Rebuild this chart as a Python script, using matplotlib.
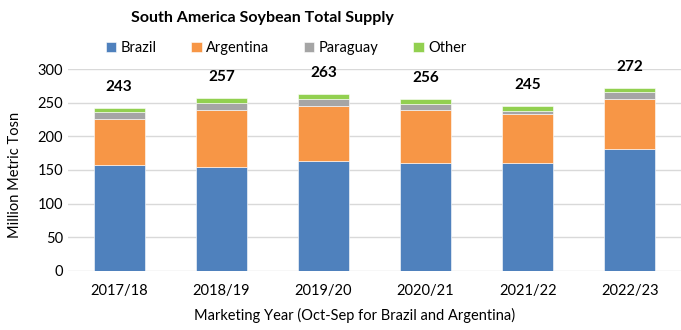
import numpy as np
import matplotlib.pyplot as plt

plt.rcParams['font.family'] = ['Lato', 'DejaVu Sans']

years = ['2017/18', '2018/19', '2019/20', '2020/21', '2021/22', '2022/23']
brazil = [157, 154, 163, 161, 160, 181]
argentina = [69, 86, 82, 78, 73, 75]
paraguay = [11, 10, 10, 10, 5, 10]
other = [6, 7, 8, 7, 7, 6]
totals = [243, 257, 263, 256, 245, 272]

series = [('Brazil', brazil, '#4F81BD'),
          ('Argentina', argentina, '#F79646'),
          ('Paraguay', paraguay, '#A5A5A5'),
          ('Other', other, '#92D050')]

fig = plt.figure(figsize=(6.81, 3.30), dpi=100)
ax = fig.add_axes([0.0999, 0.18, 0.9001, 0.61])

x = np.arange(len(years))
bottom = np.zeros(len(years))
handles = []
for name, vals, col in series:
    b = ax.bar(x, vals, 0.5, bottom=bottom, color=col, label=name,
               edgecolor='white', linewidth=0.4, zorder=3)
    handles.append(b)
    bottom += np.array(vals)

for xi, t, top in zip(x, totals, bottom):
    ax.annotate(str(t), (xi, top), xytext=(0, 15), textcoords='offset points',
                ha='center', va='center', fontsize=11, fontweight='bold')

ax.set_xlim(-0.5, len(years) - 0.5)
ax.set_ylim(0, 300)
ax.set_yticks(range(0, 301, 50))
ax.set_xticks(x)
ax.set_xticklabels(years)
ax.tick_params(axis='both', length=0, labelsize=10.5, colors='#000000')
ax.tick_params(axis='x', pad=10)
ax.grid(axis='y', color='#D9D9D9', linewidth=1, zorder=0)
for s in ax.spines.values():
    s.set_visible(False)

fig.text(0.385, 0.945, 'South America Soybean Total Supply', ha='center', va='center',
         fontsize=11.5, fontweight='bold')
fig.legend(handles=handles, loc='center', bbox_to_anchor=(0.42, 0.855), ncol=4,
           frameon=False, fontsize=10.5, handlelength=0.7, handleheight=0.7,
           handletextpad=0.3, columnspacing=2.4)
fig.text(0.521, 0.045, 'Marketing Year (Oct-Sep for Brazil and Argentina)',
         ha='center', va='center', fontsize=10.5)
fig.text(0.022, 0.47, 'Million Metric Tosn', rotation=90, ha='center', va='center',
         fontsize=10.5)

fig.savefig('out.png', dpi=100)
